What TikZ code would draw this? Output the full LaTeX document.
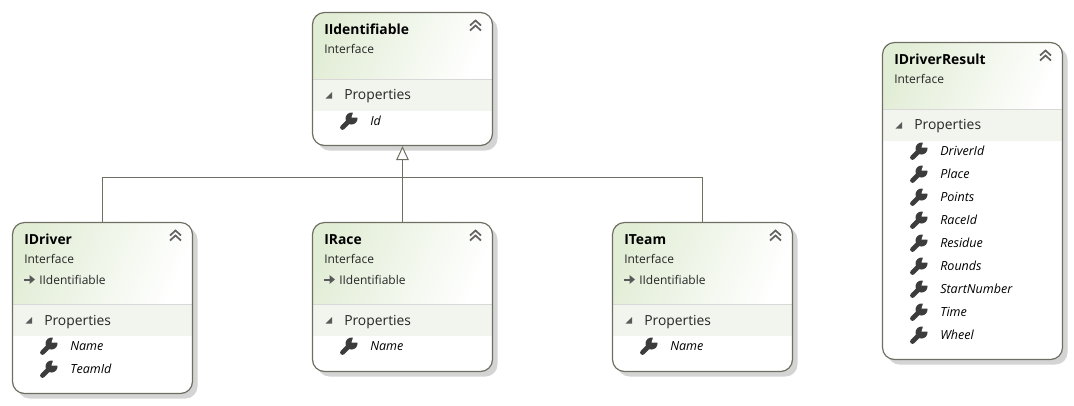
\documentclass[tikz,border=0pt]{standalone}
\usepackage{fontspec}
\setmainfont{Open Sans}
\usetikzlibrary{arrows.meta,shadings}
\definecolor{boxline}{HTML}{6E6E62}
\definecolor{shadowc}{HTML}{D4D4D4}
\definecolor{bandc}{HTML}{F1F5ED}
\definecolor{headc}{HTML}{E2EDD6}
\definecolor{sepc}{HTML}{D8D8D8}
\definecolor{icon}{HTML}{3C3C3C}
\tikzset{
  boxframe/.style={draw=boxline,line width=0.9pt,rounded corners=9pt,fill=none,inner sep=0pt},
  titletext/.style={anchor=base west,inner sep=0pt,font=\fontsize{10.4pt}{12pt}\selectfont\bfseries,text=black},
  subtext/.style={anchor=base west,inner sep=0pt,font=\fontsize{9pt}{11pt}\selectfont,text=black!85},
  grouptext/.style={anchor=base west,inner sep=0pt,font=\fontsize{10.4pt}{12pt}\selectfont,text=black!85},
  itemtext/.style={anchor=base west,inner sep=0pt,font=\fontsize{9.4pt}{11pt}\selectfont\itshape,text=black},
  inherit/.style={draw=boxline,line width=0.75pt},
  wrench/.pic={
    \draw[icon,line width=3.6pt,line cap=round] (-6,6.5) -- (1.5,-1);
    \fill[icon] (3,-2.5) circle[radius=6];
    \fill[white] (3,-3.5) -- (5,-10) -- (11,-7) -- (9.5,-3.5) -- cycle;
  },
  collapser/.pic={
    \draw[icon!80,line width=1.3pt] (-5.5,-1) -- (0,-6) -- (5.5,-1);
    \draw[icon!80,line width=1.3pt] (-5.5,4) -- (0,-1) -- (5.5,4);
  },
  expander/.pic={\fill[icon!85] (3,-3.5) -- (3,3) -- (-3.5,3) -- cycle;},
  inhericon/.pic={
    \draw[icon!85,line width=1.5pt] (-6,0) -- (2,0);
    \fill[icon!85] (0,-4.5) -- (5.5,0) -- (0,4.5) -- cycle;
  }
}
% #1 name, #2 left, #3 top, #4 bottom, #5 header bottom, #6 title, #7 group baseline
\newcommand{\classbox}[7]{%
  \fill[shadowc,rounded corners=9pt] (#2+5,#3+5) rectangle (#2+185,#4+5);
  \fill[white,rounded corners=9pt] (#2,#3) rectangle (#2+180,#4);
  \begin{scope}
    \clip[rounded corners=9pt] (#2,#3) rectangle (#2+180,#4);
    \shade[shading=axis,left color=headc,right color=white,shading angle=68] (#2,#3) rectangle (#2+180,#5);
    \fill[bandc] (#2,#5) rectangle (#2+180,#5+31);
    \draw[sepc,line width=0.75pt] (#2,#5) -- (#2+180,#5);
  \end{scope}
  \node[boxframe,minimum width=135pt,minimum height={(#4-#3)*0.75pt}] (#1) at (#2+90,{(#3+#4)/2}) {};
  \node[titletext] (#1title) at (#2+11.5,#3+22) {#6};
  \node[subtext] (#1kind) at (#2+11.5,#3+41) {Interface};
  \pic at (#2+163,#3+14) {collapser};
  \pic at (#2+16.5,#5+16) {expander};
  \node[grouptext] (#1group) at (#2+31.5,#7) {Properties};
}
% #1 name, #2 left, #3 centre y, #4 text
\newcommand{\propitem}[4]{%
  \pic at (#2+36,#3) {wrench};
  \node[itemtext] (#1) at (#2+57.5,#3+4.5) {#4};
}
% #1 name, #2 left, #3 top
\newcommand{\parentline}[3]{%
  \pic at (#2+17,#3+57) {inhericon};
  \node[subtext] (#1) at (#2+26.5,#3+62) {IIdentifiable};
}
\begin{document}
\begin{tikzpicture}[x=0.75pt,y=-0.75pt]
\useasboundingbox (0,0) rectangle (1074,405);
\classbox{ident}{312.5}{12.5}{145.5}{79.5}{IIdentifiable}{99}
\propitem{identid}{312.5}{121}{Id}
\classbox{driver}{12.5}{222.5}{393.5}{304.5}{IDriver}{325}
\parentline{driverp}{12.5}{222.5}
\propitem{drivername}{12.5}{346}{Name}
\propitem{driverteam}{12.5}{369}{TeamId}
\classbox{race}{312.5}{222.5}{371.5}{304.5}{IRace}{325}
\parentline{racep}{312.5}{222.5}
\propitem{racename}{312.5}{346}{Name}
\classbox{team}{612.5}{222.5}{371.5}{304.5}{ITeam}{325}
\parentline{teamp}{612.5}{222.5}
\propitem{teamname}{612.5}{346}{Name}
\classbox{result}{882.5}{42.5}{359.5}{109.5}{IDriverResult}{129}
\propitem{r1}{882.5}{151}{DriverId}
\propitem{r2}{882.5}{174}{Place}
\propitem{r3}{882.5}{197}{Points}
\propitem{r4}{882.5}{220}{RaceId}
\propitem{r5}{882.5}{243}{Residue}
\propitem{r6}{882.5}{266}{Rounds}
\propitem{r7}{882.5}{289}{StartNumber}
\propitem{r8}{882.5}{312}{Time}
\propitem{r9}{882.5}{335}{Wheel}
\coordinate (tee) at (402.5,177.5);
\draw[inherit] (driver.north) |- (tee);
\draw[inherit] (team.north) |- (tee);
\draw[inherit,-{Triangle[open,fill=white,length=10.5pt,width=9.5pt]}] (race.north) -- (ident.south);
\end{tikzpicture}
\end{document}
